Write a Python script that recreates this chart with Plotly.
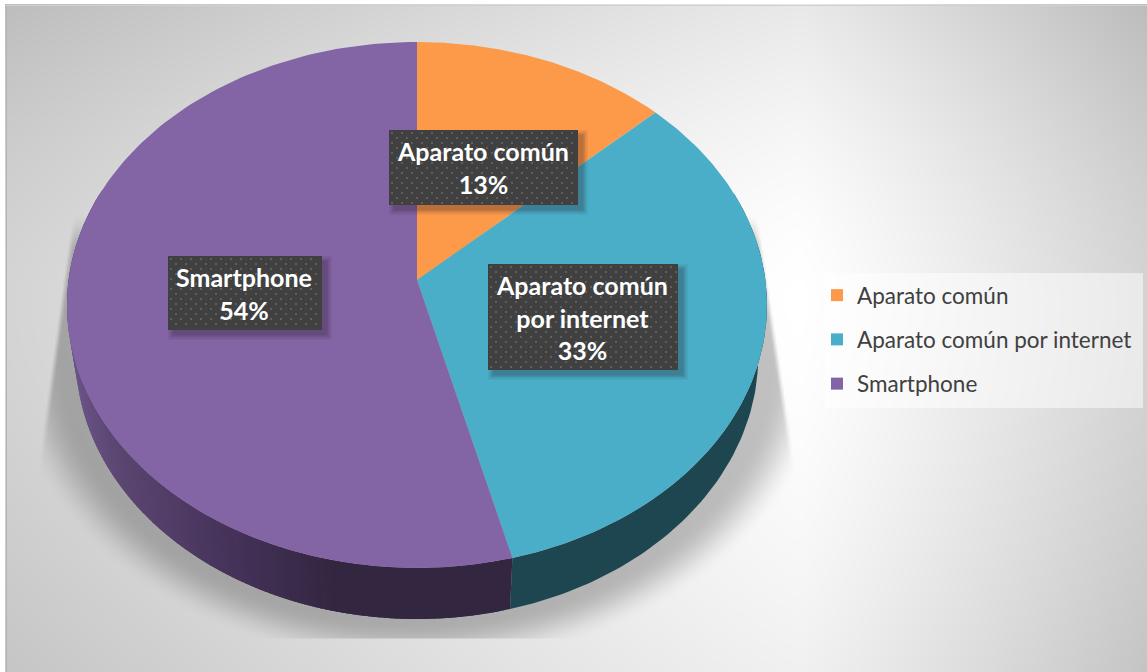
import numpy as np
import plotly.graph_objects as go

# Chart content
categories = ["Aparato común", "Aparato común por internet", "Smartphone"]
shares = [13, 33, 54]
label_texts = ["Aparato común<br>13%", "Aparato común<br>por internet<br>33%", "Smartphone<br>54%"]
top_colors = ["#FC9A4A", "#4BAEC8", "#8364A5"]

# Page geometry, in pixels
WIDTH, HEIGHT = 1147, 672
CX, CY = 417.0, 280.0
AX, BY, TILT = 348.4, 260.6, 0.095
DEPTH = 51.0
BASE_SCALE = 0.975


def rim(theta_deg):
    """Perspective projection of a point on the disc's rim; 0 deg is at the top, clockwise."""
    t = np.radians(theta_deg)
    d = 1 + TILT * np.cos(t)
    return CX + AX * np.sin(t) / d, CY - BY * np.cos(t) / d


def base(xs, ys):
    """Lower edge of the side wall under a rim point; it sits slightly narrower."""
    return CX + (xs - CX) * BASE_SCALE, ys + DEPTH


def backdrop():
    """Grey page gradient with the soft cast shadow under the disc baked in."""
    xs = np.arange(6, WIDTH + 2, 2.0)
    ys = np.arange(5, HEIGHT + 2, 2.0)
    X, Y = np.meshgrid(xs, ys)
    u = np.where(X < 800, (800 - X) / 794, (X - 800) / 347)
    v = np.where(Y < 300, (300 - Y) / 295, (Y - 300) / 372)
    drop = np.where(X < 800, 43, 44) * u ** 1.15 + np.where(Y < 300, 23, 15) * v ** 1.6
    grey = 255 - drop

    d = (np.hypot((X - 417) / 346, (Y - 352) / 263) - 1) * 300
    s = np.clip((d - 8) / 50, 0, 1)
    alpha = 0.24 * (1 - s * s * (3 - 2 * s))
    left = 68 + (Y - 243) * (41 - 68) / (440 - 243)
    right = 770 + (Y - 300) * (794 - 770) / (460 - 300)
    wedge = np.clip((X - left) / 5, 0, 1) * np.clip((right - X) / 5, 0, 1)
    wedge = wedge * np.clip((Y - 215) / 30, 0, 1) * (Y <= 638)
    grey = grey * (1 - alpha * wedge)
    return xs, ys, grey


def mix(stops, x):
    xp = [s[0] for s in stops]
    rgb = [np.interp(x, xp, [s[1][i] for s in stops]) for i in range(3)]
    return "rgb(%d,%d,%d)" % tuple(rgb)


def polygon(xs, ys, color, line=None):
    return go.Scatter(
        x=xs, y=ys, mode="lines", fill="toself", fillcolor=color,
        line=dict(color=line or "rgba(0,0,0,0)", width=1 if line else 0),
        hoverinfo="skip", showlegend=False,
    )


fig = go.Figure()

bx, by, bz = backdrop()
fig.add_trace(go.Heatmap(
    x=bx, y=by, z=bz, zmin=0, zmax=255, zsmooth="best", showscale=False, hoverinfo="skip",
    colorscale=[[0, "rgb(0,0,0)"], [1, "rgb(255,255,255)"]],
))

# Slice boundaries come from the shares
edges = np.concatenate([[0], np.cumsum(shares)]) * 3.6

# Side wall: teal part is flat, purple part darkens towards the front
t = np.linspace(70, edges[2], 80)
wx, wy = rim(t)
lx, ly = base(wx, wy)
fig.add_trace(polygon(
    np.concatenate([wx, lx[::-1]]), np.concatenate([wy, ly[::-1]]), "#1D4650",
))
wall_stops = [(67, (108, 86, 138)), (115, (92, 70, 114)), (230, (69, 51, 90)),
              (340, (51, 38, 64)), (520, (51, 38, 64))]
strips = np.linspace(edges[2], 290, 150)
for a0, a1 in zip(strips[:-1], strips[1:]):
    # each strip overlaps the next so no seam shows between them
    tt = np.linspace(a0, a1 + 1.0, 4)
    sx, sy = rim(tt)
    qx, qy = base(sx, sy)
    col = mix(wall_stops, float(sx[:2].mean()))
    fig.add_trace(polygon(
        np.concatenate([sx, qx[::-1]]), np.concatenate([sy, qy[::-1]]), col,
    ))

# Top faces
for i, color in enumerate(top_colors):
    tt = np.linspace(edges[i], edges[i + 1], 160)
    fx, fy = rim(tt)
    fig.add_trace(polygon(
        np.concatenate([[CX], fx, [CX]]), np.concatenate([[CY], fy, [CY]]), color,
    ))

# Dark value labels with a soft drop shadow and a fine dotted texture
boxes = [(389, 578, 130, 205), (488, 678, 264, 370), (168, 322, 256, 330)]
for x0, x1, y0, y1 in boxes:
    for grow, a in [(5, 0.05), (3.5, 0.07), (2, 0.09), (0.5, 0.12)]:
        fig.add_trace(polygon(
            [x0 + 5 - grow, x1 + 5 + grow, x1 + 5 + grow, x0 + 5 - grow, x0 + 5 - grow],
            [y0 + 5 - grow, y0 + 5 - grow, y1 + 5 + grow, y1 + 5 + grow, y0 + 5 - grow],
            f"rgba(30,20,30,{a})",
        ))
    fig.add_trace(polygon([x0, x1, x1, x0, x0], [y0, y0, y1, y1, y0], "#404040"))
    gx, gy = [], []
    for r, yy in enumerate(np.arange(y0 + 3, y1 - 1, 5.0)):
        for xx in np.arange(x0 + 3 + (r % 2) * 5, x1 - 1, 10.0):
            gx.append(xx)
            gy.append(yy)
    fig.add_trace(go.Scatter(
        x=gx, y=gy, mode="markers", hoverinfo="skip", showlegend=False,
        marker=dict(symbol="square", size=2, color="#5E5E5E", line=dict(width=0)),
    ))

for (x0, x1, y0, y1), text in zip(boxes, label_texts):
    fig.add_annotation(
        x=(x0 + x1) / 2 - 1, y=(y0 + y1) / 2, text=text, showarrow=False,
        xref="x", yref="y", xanchor="center", yanchor="middle", align="center",
        font=dict(family="Lato", size=25, color="white", weight="bold"),
    )

# Legend entries
for name, color in zip(categories, top_colors):
    fig.add_trace(go.Scatter(
        x=[None], y=[None], mode="markers", name=name, legendgroup=name,
        marker=dict(symbol="square", size=15, color=color, line=dict(width=0)),
    ))

fig.update_layout(
    width=WIDTH, height=HEIGHT,
    margin=dict(l=0, r=0, t=0, b=0),
    paper_bgcolor="white", plot_bgcolor="white",
    xaxis=dict(range=[0, WIDTH], visible=False, fixedrange=True),
    yaxis=dict(range=[HEIGHT, 0], visible=False, fixedrange=True),
    legend=dict(
        x=817 / WIDTH, y=1 - 274 / HEIGHT, xanchor="left", yanchor="top",
        bgcolor="rgba(0,0,0,0)", tracegroupgap=12,
        font=dict(family="Lato", size=22.5, color="#404040"),
        itemsizing="constant",
    ),
    shapes=[
        dict(type="rect", xref="x", yref="y", x0=825, x1=1143, y0=273, y1=408,
             fillcolor="rgba(255,255,255,0.5)", line=dict(width=0), layer="above"),
        dict(type="line", xref="x", yref="y", x0=6.5, x1=6.5, y0=5, y1=672,
             line=dict(color="#B4B4B4", width=1), layer="above"),
        dict(type="line", xref="x", yref="y", x0=6, x1=1147, y0=5.5, y1=5.5,
             line=dict(color="#D0D0D0", width=1), layer="above"),
    ],
)

fig.write_html("out.html", config=dict(displayModeBar=False))
